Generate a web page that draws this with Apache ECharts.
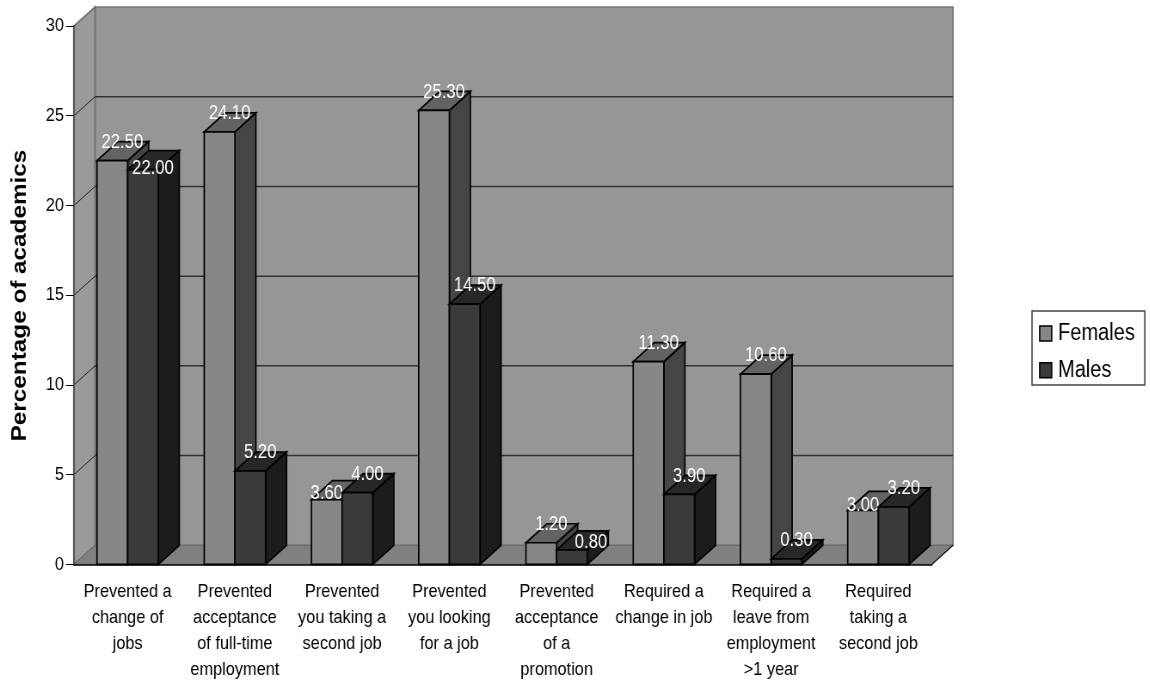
<!DOCTYPE html>
<html>
<head>
<meta charset="utf-8">
<style>
html,body{margin:0;padding:0;background:#fff;width:1150px;height:681px;overflow:hidden}
/* The reference is horizontally squeezed as a whole, text included */
#c{width:1337px;height:681px;transform:scaleX(0.86);transform-origin:0 0}
</style>
<script src="https://cdn.jsdelivr.net/npm/echarts@6/dist/echarts.min.js"></script>
</head>
<body>
<div id="c"></div>
<script>
const categories = [
  'Prevented a\nchange of\njobs',
  'Prevented\nacceptance\nof full-time\nemployment',
  'Prevented\nyou taking a\nsecond job',
  'Prevented\nyou looking\nfor a job',
  'Prevented\nacceptance\nof a\npromotion',
  'Required a\nchange in job',
  'Required a\nleave from\nemployment\n>1 year',
  'Required\ntaking a\nsecond job'
];
const females = [22.5, 24.1, 3.6, 25.3, 1.2, 11.3, 10.6, 3.0];
const males = [22.0, 5.2, 4.0, 14.5, 0.8, 3.9, 0.3, 3.2];
const yTicks = [0, 5, 10, 15, 20, 25, 30];

// Manual label placement of the original, separate from the values: [dx, dy] per bar (screen px)
const femaleLabelNudge = [[0,0],[0,0],[-10,12],[0,0],[0,0],[0,0],[0,0],[-10,13]];
const maleLabelNudge = [[0,17],[0,0],[0,0],[0,0],[9,11],[0,0],[0,0],[0,0]];

const SX = 0.86;
const px = v => v / SX;           // screen x distance -> chart x distance
const DX = px(21), DY = 19;
const FONT = '"Liberation Sans",Arial,sans-serif';
const BAR_SHARE = 0.286;

function poly(points, fill, stroke, lw, z2) {
  return {type:'polygon', shape:{points}, z2: z2 || 0,
    style:{fill, stroke: stroke || 'none', lineWidth: lw === undefined ? 1.5 : lw}};
}
function line(x1,y1,x2,y2,stroke,lw,z2){
  return {type:'line', shape:{x1,y1,x2,y2}, z2:z2||1, style:{stroke, lineWidth:lw, fill:'none'}};
}

function renderWalls(params, api) {
  const cs = params.coordSys;
  const x0 = cs.x, x1 = cs.x + cs.width, yb = cs.y + cs.height, yt = cs.y;
  const kids = [
    poly([[x0+DX,yb-DY],[x1+DX,yb-DY],[x1+DX,yt-DY],[x0+DX,yt-DY]], '#969696', '#787878', 1.7),
    poly([[x0,yb],[x0+DX,yb-DY],[x0+DX,yt-DY],[x0,yt]], '#9a9a9a', '#707070', 1.7),
    poly([[x0,yb],[x1,yb],[x1+DX,yb-DY],[x0+DX,yb-DY]], '#808080', '#6a6a6a', 1)
  ];
  yTicks.forEach(v => {
    const y = api.coord([0, v])[1];
    if (v > 0 && v < 30) {
      kids.push(line(x0+DX, y-DY, x1+DX, y-DY, '#333333', 1.5));
      kids.push(line(x0, y, x0+DX, y-DY, '#222222', 1));
    }
  });
  kids.push(line(x1, yb, x1+DX, yb-DY, '#111111', 1.2, 2));
  return {type:'group', children:kids};
}

function barRenderer(sideIndex, front, side, top, nudges) {
  return function (params, api) {
    const idx = api.value(0), val = api.value(1);
    const base = api.coord([idx, 0]);
    const head = api.coord([idx, val]);
    const w = api.size([1, 0])[0] * BAR_SHARE;
    const x0 = base[0] + (sideIndex - 1) * w, x1 = x0 + w;
    const yb = base[1], yt = head[1];
    const n = nudges[idx];
    return {type:'group', children:[
      poly([[x1,yb],[x1+DX,yb-DY],[x1+DX,yt-DY],[x1,yt]], side, '#000', 1.7, 2),
      poly([[x0,yt],[x1,yt],[x1+DX,yt-DY],[x0+DX,yt-DY]], top, '#000', 1.7, 2),
      poly([[x0,yb],[x1,yb],[x1,yt],[x0,yt]], front, '#000', 1.7, 3),
      {type:'text', z2:100, style:{
        text: val.toFixed(2),
        x: (x0+x1)/2 + px(10 + n[0]),
        y: yt - 18 + n[1],
        fill:'#ffffff', font:'19.4px '+FONT, textAlign:'center', textVerticalAlign:'middle'
      }}
    ]};
  };
}

const chart = echarts.init(document.getElementById('c'), null, {renderer:'canvas'});
chart.setOption({
  animation:false,
  backgroundColor:'#ffffff',
  grid:{left:px(74), top:26, width:px(858), height:538.3, containLabel:false, outerBoundsMode:'none'},
  xAxis:{
    type:'category', data:categories, z:5,
    axisLine:{lineStyle:{color:'#000',width:1.5}},
    axisTick:{length:9, lineStyle:{color:'#000',width:1.4}},
    axisLabel:{interval:0, margin:14, color:'#000', fontFamily:FONT, fontSize:19, lineHeight:26}
  },
  yAxis:{
    type:'value', min:0, max:30, interval:5, z:5,
    axisLine:{show:true, lineStyle:{color:'#555',width:2.2}},
    axisTick:{show:true, length:px(8), lineStyle:{color:'#000',width:1}},
    splitLine:{show:false},
    axisLabel:{margin:px(10), color:'#000', fontFamily:FONT, fontSize:19}
  },
  legend:{
    left:px(1032), top:311, orient:'vertical', data:['Females','Males'],
    icon:'rect', itemWidth:px(12), itemHeight:15, itemGap:13.7,
    padding:[11,px(10),3.3,px(7)], borderColor:'#444', borderWidth:1.6, backgroundColor:'#fff',
    itemStyle:{borderColor:'#000',borderWidth:1.6},
    textStyle:{fontFamily:FONT, fontSize:23.3, color:'#000', padding:[0,0,0,px(2)]}
  },
  graphic:[{
    type:'text', x:px(20), y:295.5, rotation:Math.PI/2, z:10,
    style:{text:'Percentage of academics', font:'bold 24.3px '+FONT,
      fill:'#000', textAlign:'center', textVerticalAlign:'middle'}
  }],
  series:[
    {type:'custom', name:'walls', z:1, silent:true, data:[[0,0]], encode:{x:0,y:1}, renderItem:renderWalls},
    {type:'custom', name:'Females', z:2, itemStyle:{color:'#878787'},
      data:females.map((v,i)=>[i,v]), encode:{x:0,y:1},
      renderItem:barRenderer(0,'#878787','#454545','#636363',femaleLabelNudge)},
    {type:'custom', name:'Males', z:3, itemStyle:{color:'#3a3a3a'},
      data:males.map((v,i)=>[i,v]), encode:{x:0,y:1},
      renderItem:barRenderer(1,'#3a3a3a','#1c1c1c','#272727',maleLabelNudge)}
  ]
});
</script>
</body>
</html>
